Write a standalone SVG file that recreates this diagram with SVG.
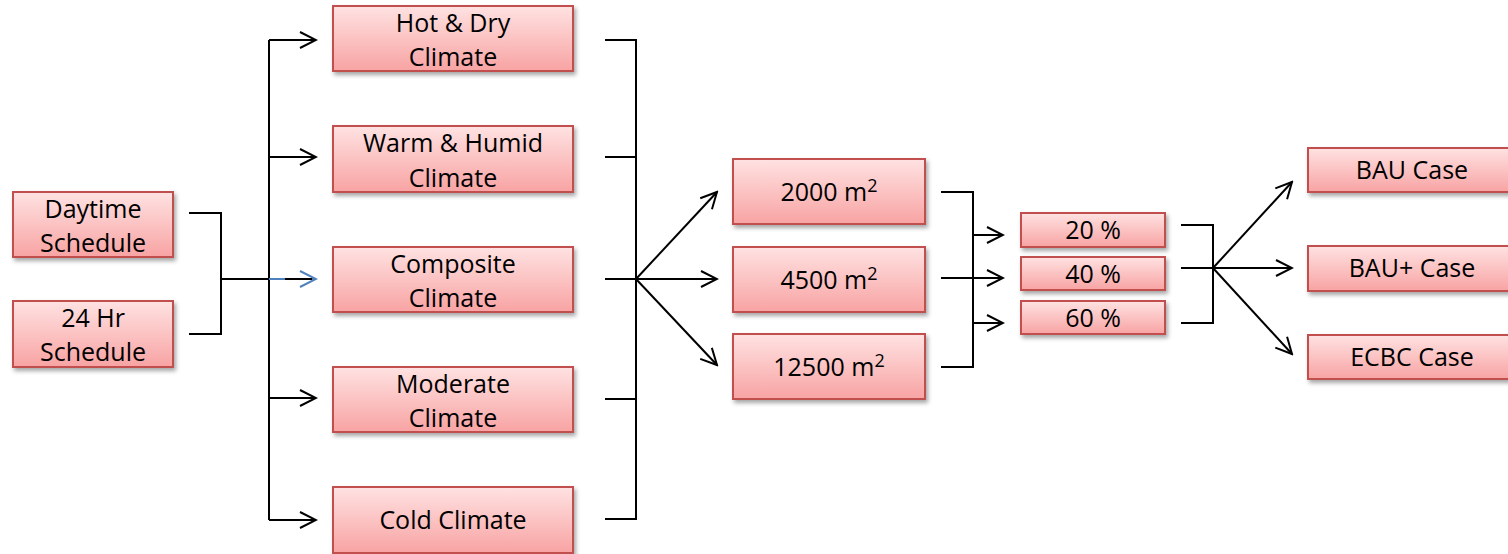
<svg xmlns="http://www.w3.org/2000/svg" width="1508" height="554" viewBox="0 0 1508 554">
<defs>
<linearGradient id="g" x1="0" y1="0" x2="0" y2="1">
<stop offset="0" stop-color="#ffe2e2"/>
<stop offset="1" stop-color="#f8a3a3"/>
</linearGradient>
<filter id="sh" x="-10%" y="-20%" width="130%" height="160%">
<feDropShadow dx="2" dy="3" stdDeviation="2" flood-color="#000" flood-opacity="0.35"/>
</filter>
<marker id="ah" viewBox="-18 -10 20 20" markerWidth="20" markerHeight="20" refX="0" refY="0" orient="auto" markerUnits="userSpaceOnUse">
<path d="M-16,-8 L0,0 L-16,8" fill="none" stroke="#000" stroke-width="2"/>
</marker>
<marker id="ahb" viewBox="-18 -10 20 20" markerWidth="20" markerHeight="20" refX="0" refY="0" orient="auto" markerUnits="userSpaceOnUse">
<path d="M-16,-8 L0,0 L-16,8" fill="none" stroke="#4f81bd" stroke-width="2"/>
</marker>
</defs>
<style>
.box{fill:url(#g);stroke:#c0504d;stroke-width:2;filter:url(#sh)}
.t{font-family:"Open Sans","Liberation Sans",sans-serif;font-size:25px;fill:#000;text-anchor:middle}
.n{font-family:"Open Sans","Liberation Sans",sans-serif;font-size:25px;fill:#000;text-anchor:middle}
.s{font-size:18px}
.c{fill:none;stroke:#000;stroke-width:2}
.a{fill:none;stroke:#000;stroke-width:2;marker-end:url(#ah)}
</style>
<rect width="1508" height="554" fill="#fff"/>
<g id="connectors">
<path class="c" d="M189,213 H221 V334 H189 M221,279 H269"/>
<path class="c" d="M269,40 V520"/>
<path class="a" d="M269,40 H316"/>
<path class="a" d="M269,157 H316"/>
<path d="M269,279 H316" fill="none" stroke="#4f81bd" stroke-width="2" marker-end="url(#ahb)"/>
<path class="c" d="M285,279 H312"/>
<path class="a" d="M269,398 H316"/>
<path class="a" d="M269,520 H316"/>
<path class="c" d="M605,40 H636 V519 H605 M605,157 H636 M605,279 H636 M605,399 H636"/>
<path class="a" d="M636,279 L717,192"/>
<path class="a" d="M636,279 H717"/>
<path class="a" d="M636,279 L717,365"/>
<path class="c" d="M941,192 H973 V367 H941 M941,278 H973"/>
<path class="a" d="M973,235 H1003"/>
<path class="a" d="M973,278 H1003"/>
<path class="a" d="M973,323 H1003"/>
<path class="c" d="M1181,225 H1213 V323 H1181 M1181,268 H1213"/>
<path class="a" d="M1213,268 L1292,182"/>
<path class="a" d="M1213,268 H1292"/>
<path class="a" d="M1213,268 L1292,354"/>
</g>
<g id="daytime"><rect class="box" x="13" y="192" width="160" height="65"/><text class="t" x="93" y="218">Daytime</text><text class="t" x="93" y="252">Schedule</text></g>
<g id="hr24"><rect class="box" x="13" y="301" width="160" height="66"/><text class="t" x="93" y="327">24 Hr</text><text class="t" x="93" y="361">Schedule</text></g>
<g id="hotdry"><rect class="box" x="333" y="6" width="240" height="65"/><text class="t" x="453" y="32">Hot &amp; Dry</text><text class="t" x="453" y="66">Climate</text></g>
<g id="warmhumid"><rect class="box" x="333" y="126" width="240" height="66"/><text class="t" x="453" y="152">Warm &amp; Humid</text><text class="t" x="453" y="187">Climate</text></g>
<g id="composite"><rect class="box" x="333" y="247" width="240" height="65"/><text class="t" x="453" y="273">Composite</text><text class="t" x="453" y="307">Climate</text></g>
<g id="moderate"><rect class="box" x="333" y="367" width="240" height="65"/><text class="t" x="453" y="393">Moderate</text><text class="t" x="453" y="427">Climate</text></g>
<g id="cold"><rect class="box" x="333" y="487" width="240" height="66"/><text class="t" x="453" y="529">Cold Climate</text></g>
<g id="a2000"><rect class="box" x="733" y="159" width="192" height="65"/><text class="n" x="829" y="201">2000 m<tspan class="s" dy="-9">2</tspan></text></g>
<g id="a4500"><rect class="box" x="733" y="247" width="192" height="65"/><text class="n" x="829" y="289">4500 m<tspan class="s" dy="-9">2</tspan></text></g>
<g id="a12500"><rect class="box" x="733" y="334" width="192" height="65"/><text class="n" x="829" y="376">12500 m<tspan class="s" dy="-9">2</tspan></text></g>
<g id="p20"><rect class="box" x="1021" y="213" width="144" height="34"/><text class="n" x="1093" y="239">20 %</text></g>
<g id="p40"><rect class="box" x="1021" y="257" width="144" height="33"/><text class="n" x="1093" y="283">40 %</text></g>
<g id="p60"><rect class="box" x="1021" y="301" width="144" height="33"/><text class="n" x="1093" y="327">60 %</text></g>
<g id="bau"><rect class="box" x="1308" y="148" width="208" height="44"/><text class="t" x="1412" y="179">BAU Case</text></g>
<g id="bauplus"><rect class="box" x="1308" y="246" width="208" height="45"/><text class="t" x="1412" y="277">BAU+ Case</text></g>
<g id="ecbc"><rect class="box" x="1308" y="335" width="208" height="44"/><text class="t" x="1412" y="366">ECBC Case</text></g>
</svg>
